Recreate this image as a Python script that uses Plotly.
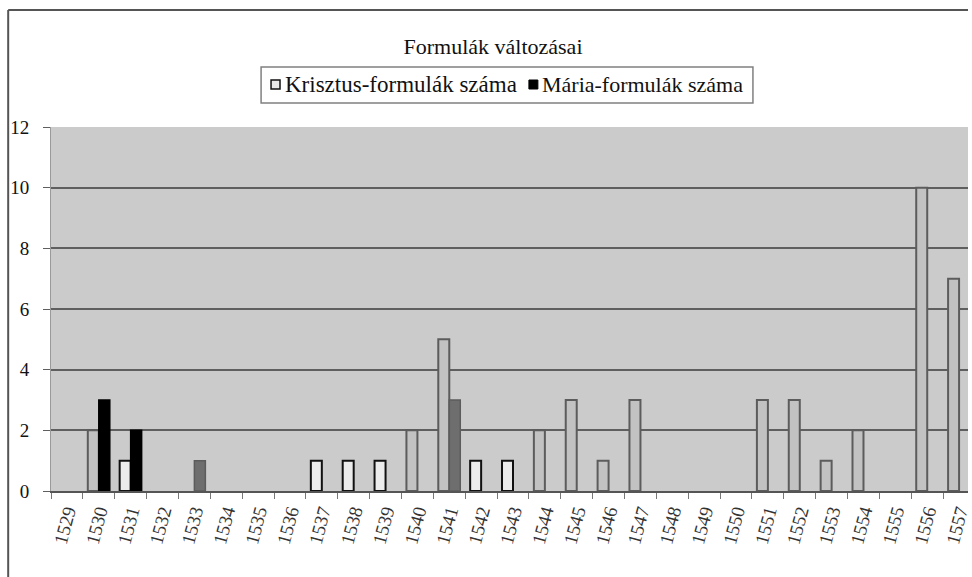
import plotly.graph_objects as go

years = [str(y) for y in range(1529, 1558)]
krisztus = [0, 2, 1, 0, 0, 0, 0, 0, 1, 1, 1, 2, 5, 1, 1, 2, 3, 1, 3, 0, 0, 0, 3, 3, 1, 2, 0, 10, 7]
maria = [0, 3, 2, 0, 1, 0, 0, 0, 0, 0, 0, 0, 3, 0, 0, 0, 0, 0, 0, 0, 0, 0, 0, 0, 0, 0, 0, 0, 0]

title_text = "Formulák változásai"
name_k = "Krisztus-formulák száma"
name_m = "Mária-formulák száma"

# per-bar styling (imitating the scanned appearance)
white_outline_years = {"1531", "1537", "1538", "1539", "1542", "1543"}
k_fill = ["#ececec" if y in white_outline_years else "#c2c2c2" for y in years]
k_line = ["#111111" if y in white_outline_years else "#5c5c5c" for y in years]
m_fill = ["#000000" if y in {"1530", "1531"} else "#6e6e6e" for y in years]
m_line = ["#000000" if y in {"1530", "1531"} else "#5c5c5c" for y in years]

FONT = "Liberation Serif, Times New Roman, serif"

fig = go.Figure()
fig.add_trace(go.Bar(x=years, y=[v if v else None for v in krisztus], name=name_k,
                     showlegend=False,
                     marker=dict(color=k_fill, line=dict(color=k_line, width=2))))
fig.add_trace(go.Bar(x=years, y=[v if v else None for v in maria], name=name_m,
                     showlegend=False,
                     marker=dict(color=m_fill, line=dict(color=m_line, width=1.5))))

W, H = 972, 577
ml, mr, mt, mb = 51, 0, 127, 86
pw, ph = W - ml - mr, H - mt - mb


def px_x(x):
    return (x - ml) / pw


def px_y(y):
    return (H - mb - y) / ph


# manual legend (box, swatches, labels)
leg_top, leg_bot, leg_left, leg_right = 67, 103, 262, 756
leg_mid = 85
shapes = [
    dict(type="line", xref="paper", yref="paper",
         x0=px_x(8), x1=px_x(972), y0=px_y(10), y1=px_y(10),
         line=dict(color="#555555", width=2)),
    dict(type="line", xref="paper", yref="paper",
         x0=px_x(8), x1=px_x(8), y0=px_y(10), y1=px_y(577),
         line=dict(color="#555555", width=2)),
    dict(type="rect", xref="paper", yref="paper",
         x0=px_x(leg_left), x1=px_x(leg_right), y0=px_y(leg_top), y1=px_y(leg_bot),
         line=dict(color="#808080", width=1.5), fillcolor="white"),
    dict(type="rect", xref="paper", yref="paper",
         x0=px_x(272), x1=px_x(281), y0=px_y(leg_mid - 5), y1=px_y(leg_mid + 4),
         line=dict(color="#111111", width=1.5), fillcolor="#e8e8e8"),
    dict(type="rect", xref="paper", yref="paper",
         x0=px_x(531), x1=px_x(540), y0=px_y(leg_mid - 5), y1=px_y(leg_mid + 4),
         line=dict(color="#000000", width=1), fillcolor="#000000"),
]
annotations = [
    dict(text=name_k, xref="paper", yref="paper", x=px_x(284), y=px_y(leg_mid),
         xanchor="left", yanchor="middle", showarrow=False,
         font=dict(family=FONT, size=23, color="#111111")),
    dict(text=name_m, xref="paper", yref="paper", x=px_x(542), y=px_y(leg_mid),
         xanchor="left", yanchor="middle", showarrow=False,
         font=dict(family=FONT, size=22, color="#111111")),
]

fig.update_layout(
    width=W, height=H,
    margin=dict(l=ml, r=mr, t=mt, b=mb),
    paper_bgcolor="white",
    plot_bgcolor="#cbcbcb",
    barmode="group",
    bargap=0.31,
    bargroupgap=0,
    showlegend=False,
    font=dict(family=FONT, color="#111111", size=16),
    title=dict(text=title_text, x=493 / W, xref="container", xanchor="center",
               y=1 - 46 / H, yanchor="middle", yref="container",
               font=dict(family=FONT, size=22, color="#111111")),
    xaxis=dict(type="category", range=[-0.5, 28.28],
               showgrid=False, showline=True, linecolor="#555555", linewidth=2,
               ticks="outside", tickson="boundaries", ticklen=6, tickcolor="#777777",
               tickangle=-75, tickfont=dict(family=FONT, size=19, color="#333333")),
    yaxis=dict(range=[0, 12], dtick=2, showgrid=True, gridcolor="#5f5f5f", gridwidth=1.5,
               zeroline=False, showline=True, linecolor="#9a9a9a", linewidth=1,
               ticks="outside", ticklen=7, tickcolor="#5f5f5f", ticklabelstandoff=10,
               tickfont=dict(family=FONT, size=19, color="#111111")),
    shapes=shapes,
    annotations=annotations,
)

fig.write_html("out.html", config={"displayModeBar": False},
               post_script="document.body.style.margin='0';document.body.style.overflow='hidden';")
